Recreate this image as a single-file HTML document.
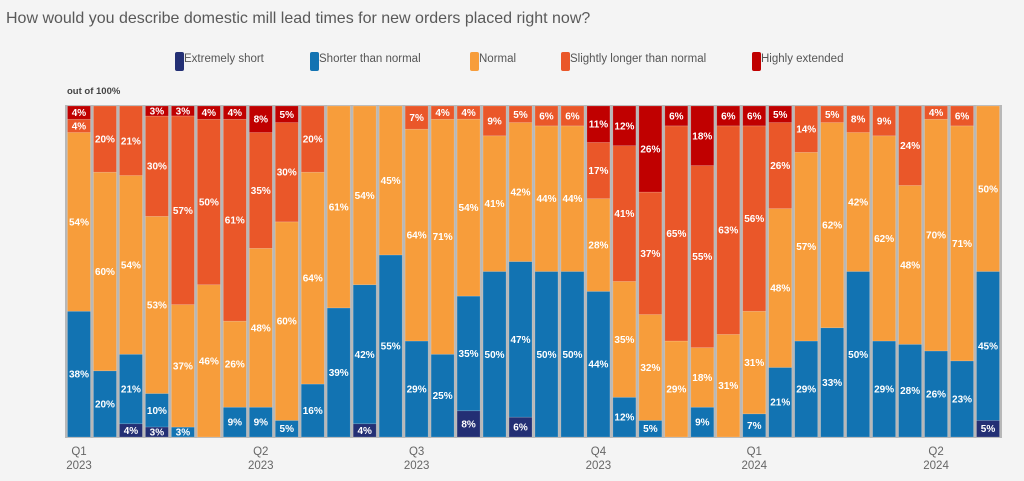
<!DOCTYPE html>
<html><head><meta charset="utf-8"><style>
body{margin:0;background:#f4f4f4;font-family:"Liberation Sans",Arial,sans-serif;}
#wrap{position:relative;width:1024px;height:481px;overflow:hidden;}
</style></head><body>
<div id="wrap">
<svg id="chart" width="1024" height="481" xmlns="http://www.w3.org/2000/svg">
<text x="6" y="23" font-size="16" fill="#595959">How would you describe domestic mill lead times for new orders placed right now?</text>
<text x="67" y="94" font-size="9.5" font-weight="bold" fill="#444">out of 100%</text>
<g id="legend"></g>
<g id="plot"></g>
<g id="xaxis"></g>
</svg>
</div>
<script>
const seriesNames = ["Extremely short","Shorter than normal","Normal","Slightly longer than normal","Highly extended"];
const extremelyShort = [0,0,4,3,0,0,0,0,0,0,0,4,0,0,0,8,0,6,0,0,0,0,0,0,0,0,0,0,0,0,0,0,0,0,0,5];
const shorterThanNormal = [38,20,21,10,3,0,9,9,5,16,39,42,55,29,25,35,50,47,50,50,44,12,5,0,9,0,7,21,29,33,50,29,28,26,23,45];
const normal = [54,60,54,53,37,46,26,48,60,64,61,54,45,64,71,54,41,42,44,44,28,35,32,29,18,31,31,48,57,62,42,62,48,70,71,50];
const slightlyLonger = [4,20,21,30,57,50,61,35,30,20,0,0,0,7,4,4,9,5,6,6,17,41,37,65,55,63,56,26,14,5,8,9,24,4,6,0];
const highlyExtended = [4,0,0,3,3,4,4,8,5,0,0,0,0,0,0,0,0,0,0,0,11,12,26,6,18,6,6,5,0,0,0,0,0,0,0,0];
const tickIndex = [0,7,13,20,26,33];
const tickQuarter = ["Q1","Q2","Q3","Q4","Q1","Q2"];
const tickYear = ["2023","2023","2023","2023","2024","2024"];

const colors = ["#232f74","#1273b2","#f79d3b","#ea5729","#c00000"];
const series = [extremelyShort,shorterThanNormal,normal,slightlyLonger,highlyExtended];
const segNames = ["extremely-short","shorter","normal","slightly-longer","highly-extended"];
const NS="http://www.w3.org/2000/svg";
const X0=66, X1=1001, Y0=106, Y1=437;
const n=normal.length, pitch=(X1-X0)/n, bw=pitch-3;
function xPos(i){return X0+i*pitch+1.5;}
function yScale(frac){return Y1-frac*(Y1-Y0);}
function mk(tag,attrs,parent){const e=document.createElementNS(NS,tag);for(const k in attrs)e.setAttribute(k,attrs[k]);parent.appendChild(e);return e;}

const plot=document.getElementById('plot');
const bg=mk('rect',{x:X0-1,y:Y0-1,width:X1-X0+2,height:Y1-Y0+2,fill:'#b8b8b8'},plot);


for(let i=0;i<n;i++){
  let total=0;series.forEach(s=>total+=s[i]);
  let cum=0;
  const g=mk('g',{},plot);
  
  
  for(let k=0;k<5;k++){
    const v=series[k][i]; if(!v) continue;
    const yb=yScale(cum/total), yt=yScale((cum+v)/total);
    const r=mk('rect',{x:xPos(i),y:yt,width:bw,height:yb-yt,fill:colors[k],stroke:'rgba(255,255,255,0.25)','stroke-width':0.6},g);
    
    
    const t=mk('text',{x:xPos(i)+bw/2,y:(yb+yt)/2+3.5,'text-anchor':'middle','font-size':'10','font-weight':'bold',fill:'#fff'},g);
    t.textContent=v+'%';
    
    
    cum+=v;
  }
}
const xa=document.getElementById('xaxis');
tickIndex.forEach((ti,j)=>{
  const cx=xPos(ti)+bw/2;
  const t1=mk('text',{x:cx,y:455,'text-anchor':'middle','font-size':'11.5',fill:'#666'},xa);
  t1.textContent=tickQuarter[j];
  
  
  const t2=mk('text',{x:cx,y:469,'text-anchor':'middle','font-size':'11.5',fill:'#666'},xa);
  t2.textContent=tickYear[j];
  
  
});
const lg=document.getElementById('legend');
const lx=[175,310,470,561,752];
seriesNames.forEach((nm,k)=>{
  const g=mk('g',{},lg);
  
  
  mk('rect',{x:lx[k],y:52,width:9,height:19,rx:2,fill:colors[k]},g);
  const t=mk('text',{x:lx[k]+9,y:62,'font-size':'11.5',fill:'#555'},g);
  t.textContent=nm;
});
</script>
</body></html>
